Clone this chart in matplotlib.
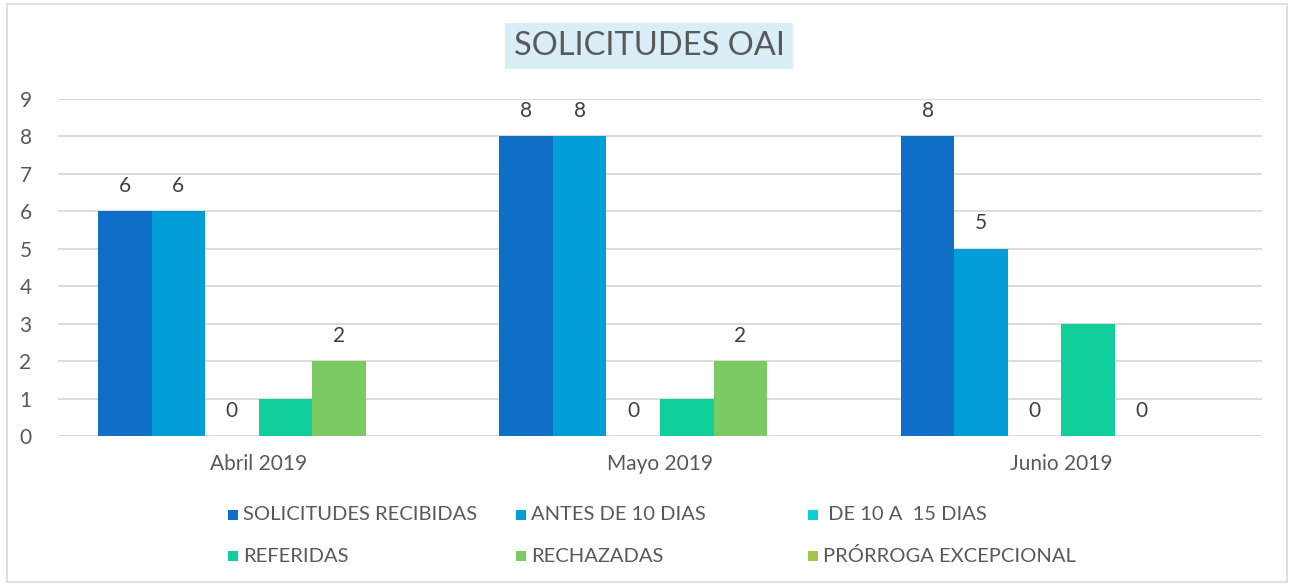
import numpy as np
import matplotlib
matplotlib.use("Agg")
import matplotlib.pyplot as plt
from matplotlib.patches import Rectangle

plt.rcParams["font.family"] = ["Lato", "DejaVu Sans"]

# Data
months = ["Abril 2019", "Mayo 2019", "Junio 2019"]
series_names = ["SOLICITUDES RECIBIDAS", "ANTES DE 10 DIAS", " DE 10 A  15 DIAS",
                "REFERIDAS", "RECHAZADAS", "PRÓRROGA EXCEPCIONAL"]
solicitudes = [6, 8, 8]
antes_10 = [6, 8, 5]
de_10_15 = [0, 0, 0]
referidas = [1, 1, 3]
rechazadas = [2, 2, 0]
prorroga = [np.nan, np.nan, np.nan]

series = [solicitudes, antes_10, de_10_15, referidas, rechazadas, prorroga]
colors = ["#0F6FC6", "#009DD9", "#0BD0D9", "#10CF9B", "#7CCA62", "#A5C249"]
# which series show data labels (referidas / prorroga have none in the original)
show_labels = [True, True, True, False, True, False]

text_color = "#595959"
grid_color = "#D9D9D9"

fig = plt.figure(figsize=(12.93, 5.86), dpi=100)
ax = fig.add_axes([58 / 1293, 1 - 436 / 586, (1262 - 58) / 1293, (436 - 99) / 586])

x = np.arange(len(months))
w = 0.8 / len(series)
for i, (vals, col) in enumerate(zip(series, colors)):
    pos = x + (i - 2.5) * w
    vals = np.array(vals, dtype=float)
    ax.bar(pos, np.nan_to_num(vals), width=w, color=col, linewidth=0)
    if show_labels[i]:
        for px, v in zip(pos, vals):
            ax.annotate(f"{int(v)}", (px, v), xytext=(0, 11), textcoords="offset points",
                        ha="center", va="bottom", fontsize=15, color="#404040")

ax.set_xlim(-0.5, 2.5)
ax.set_ylim(0, 9)
ax.set_yticks(range(0, 10))
ax.set_xticks(x)
ax.set_xticklabels(months)
ax.tick_params(axis="both", length=0, labelsize=15, labelcolor=text_color)
ax.tick_params(axis="y", pad=19)
ax.tick_params(axis="x", pad=13)
ax.grid(axis="y", color=grid_color, linewidth=1.3)
ax.set_axisbelow(True)
for s in ax.spines.values():
    s.set_visible(False)

# Title with shaded box
fig.text(649 / 1293, 1 - 46 / 586, "SOLICITUDES OAI", ha="center", va="center",
         fontsize=23.5, color=text_color,
         bbox=dict(boxstyle="square,pad=0.25", facecolor="#DAEEF8", edgecolor="none"))

# Legend, laid out like the original (3 columns, 2 rows)
col_x = [228, 516, 808]
row_y = [515, 556]
for i, (name, col) in enumerate(zip(series_names, colors)):
    cx = col_x[i % 3]
    cy = row_y[i // 3]
    fig.patches.append(Rectangle((cx / 1293, 1 - (cy + 5) / 586), 10 / 1293, 10 / 586,
                                 transform=fig.transFigure, facecolor=col, edgecolor="none"))
    fig.text((cx + 15) / 1293, 1 - cy / 586, name, ha="left", va="center",
             fontsize=14.5, color=text_color)

# Outer border
fig.patches.append(Rectangle((7 / 1293, 4 / 586), 1280 / 1293, 578 / 586,
                             transform=fig.transFigure, facecolor="none",
                             edgecolor=grid_color, linewidth=1.2))

fig.savefig("out.png", dpi=100)
